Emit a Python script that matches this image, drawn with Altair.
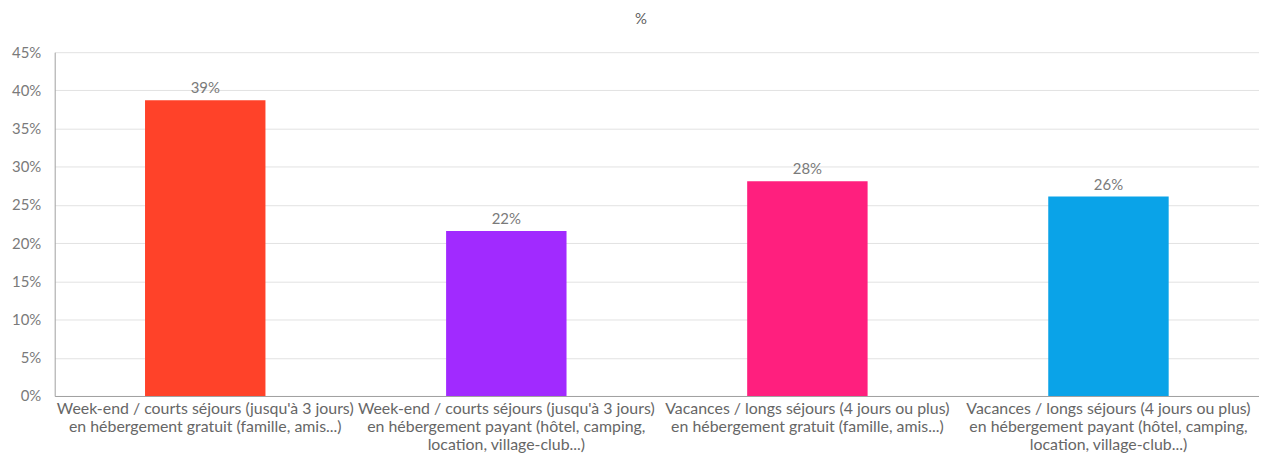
import altair as alt
import pandas as pd

categories = [
    "Week-end / courts séjours (jusqu'à 3 jours)|en hébergement gratuit (famille, amis...)",
    "Week-end / courts séjours (jusqu'à 3 jours)|en hébergement payant (hôtel, camping,|location, village-club...)",
    "Vacances / longs séjours (4 jours ou plus)|en hébergement gratuit (famille, amis...)",
    "Vacances / longs séjours (4 jours ou plus)|en hébergement payant (hôtel, camping,|location, village-club...)",
]
values = [38.7, 21.6, 28.1, 26.1]
colors = ["#FF4229", "#A12AFF", "#FF1F7E", "#0AA3E8"]
y_ticks = [0, 5, 10, 15, 20, 25, 30, 35, 40, 45]

df = pd.DataFrame({"cat": categories, "val": values, "color": colors})

FONT = "Lato"
GRAY = "#7a7a7a"

base = alt.Chart(df).encode(
    x=alt.X(
        "cat:N",
        sort=categories,
        title=None,
        scale=alt.Scale(paddingInner=0.6, paddingOuter=0.3),
        axis=alt.Axis(
            labelAngle=0,
            labelExpr="split(datum.label, '|')",
            labelFont=FONT,
            labelFontSize=16,
            labelColor="#666666",
            labelLineHeight=18,
            labelPadding=5,
            ticks=False,
            domainColor="#a0a0a0",
            labelLimit=400,
        ),
    ),
    y=alt.Y(
        "val:Q",
        title=None,
        scale=alt.Scale(domain=[0, 45], nice=False),
        axis=alt.Axis(
            values=y_ticks,
            labelOverlap=False,
            labelExpr="datum.value + '%'",
            labelFont=FONT,
            labelFontSize=15,
            labelColor=GRAY,
            labelPadding=14,
            ticks=False,
            domainColor="#a0a0a0",
            gridColor="#e2e2e2",
        ),
    ),
)

bars = base.mark_bar().encode(
    color=alt.Color("color:N", scale=None, legend=None),
)

text = base.mark_text(font=FONT, fontSize=15, color=GRAY, baseline="bottom", dy=-4).transform_calculate(
    lbl="format(datum.val, '.0f') + '%'"
).encode(
    text="lbl:N",
)

chart = (
    alt.layer(bars, text)
    .properties(
        width=1212,
        height=346,
        autosize=alt.AutoSizeParams(type="none"),
        padding={"left": 47, "top": 43, "right": 0, "bottom": 70},
        title=alt.TitleParams(
            text="%",
            font=FONT,
            fontSize=15,
            fontWeight="normal",
            color="#606060",
            anchor="middle",
            frame="group",
            offset=18,
            dx=-16,
        ),
    )
    .configure_view(stroke=None)
)

chart.save("out.html", embed_options={"renderer": "svg", "actions": False})
